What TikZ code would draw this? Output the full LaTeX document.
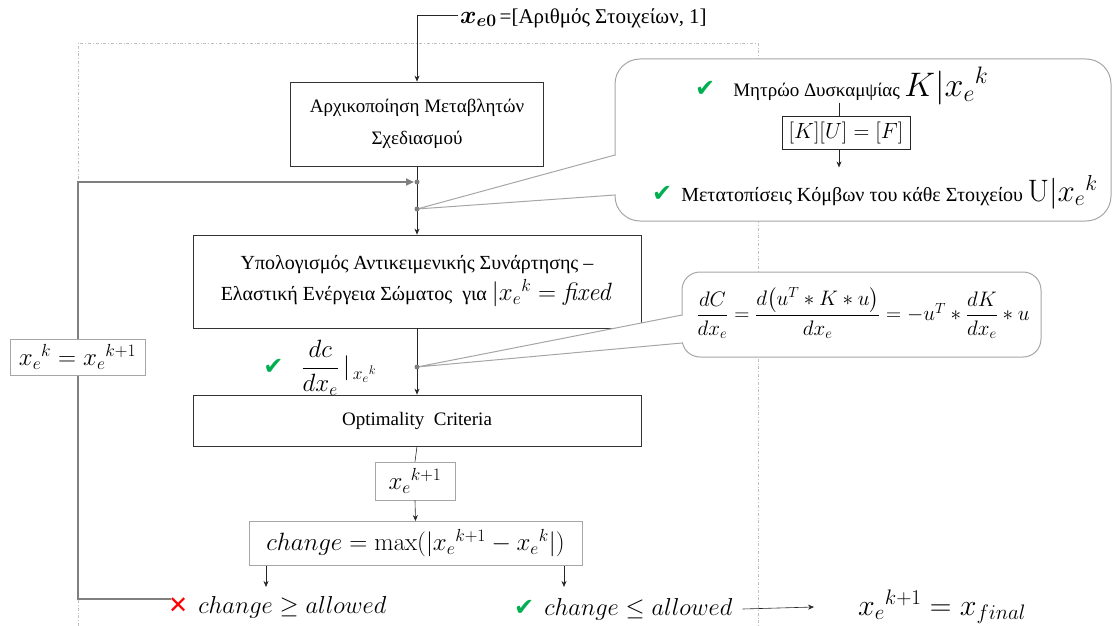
\RequirePackage{fix-cm}
\documentclass[tikz,border=0pt]{standalone}
\usepackage{amsmath}
\usepackage{bm}
\usepackage[no-math]{fontspec}
\setmainfont{Liberation Serif}
\newfontfamily\symfont{DejaVu Sans}
\usetikzlibrary{arrows.meta}
\definecolor{okgreen}{HTML}{00B050}
\definecolor{loopgray}{HTML}{7F7F7F}
\definecolor{boxgray}{HTML}{A6A6A6}
\definecolor{framegray}{HTML}{BFBFBF}
\newcommand\fsz[2]{\fontsize{#1}{#2}\selectfont}
\newcommand\okmark{{\symfont\color{okgreen}✔}}
\newcommand\badmark{{\symfont\color{red}✕}}
\newcommand\xek[1]{{x_e}^{#1}}

\begin{document}
\begin{tikzpicture}[x=1pt, y=-1pt,
  plain/.style={inner sep=2pt, font=\fsz{18}{22}},
  stepbox/.style={draw=black!80, line width=0.8pt, fill=white, align=center, inner sep=3pt, font=\fsz{19}{32}},
  graybox/.style={draw=boxgray, line width=0.9pt, fill=white, align=center, inner sep=3pt, font=\fsz{25}{28}},
  arr/.style={draw=black!85, line width=0.6pt, -{Stealth[length=6pt,width=5pt]}},
  link/.style={draw=black!85, line width=0.6pt},
  loop/.style={draw=loopgray, line width=2.4pt, -{Triangle[length=8pt,width=7pt]}},
  frame/.style={draw=framegray, line width=0.7pt, dash dot},
  callframe/.style={draw=boxgray, line width=1pt, fill=white},
  junction/.style={circle, fill=loopgray, inner sep=0pt, minimum size=5pt}
]
\useasboundingbox (0,0) rectangle (1113,626);

% dash-dot frame around the iteration
\draw[frame] (78,626) -- (78,43) -- (758,43) -- (758,626);

% initial value
\node[plain, anchor=west] (top) at (458,18)
  {{\fsz{25}{28}$\bm{x_{e0}}$}\,{\fsz{21}{24}=[Αριθμός Στοιχείων, 1]}};

% main column of steps
\node[stepbox, minimum width=253, minimum height=84] (b1) at (417,124)
  {Αρχικοποίηση Μεταβλητών\\Σχεδιασμού};
\node[stepbox, minimum width=448, minimum height=93, font=\fsz{20}{31}] (b2) at (417,281.5)
  {Υπολογισμός Αντικειμενικής Συνάρτησης –\\Ελαστική Ενέργεια Σώματος\ \ για {\fsz{25}{31}$|\xek{k} = \mathit{fixed}$}};
\node[stepbox, minimum width=448, minimum height=51] (b3) at (417,420.5)
  {Optimality\ \ Criteria};
\node[graybox, minimum width=80, minimum height=38] (xnew) at (415,481)
  {$\xek{k+1}$};
\node[graybox, minimum width=333, minimum height=44] (chg) at (415.5,543.5)
  {$change = \max(|\xek{k+1} - \xek{k}|)$};

\coordinate (j1) at (417,182);
\coordinate (j2) at (417,209);
\coordinate (j3) at (417,367);

\draw[arr] ([yshift=3pt]top.west) -| (b1.north);
\draw[arr] (b1.south) -- (b2.north);
\draw[arr] (b2.south) -- (b3.north);
\draw[link] (b3.south) -- (xnew.north);
\draw[arr] (xnew.south) -- (chg.north);

% gradient label
\node[plain] (grad) at (320,368)
  {{\fsz{24}{26}\okmark}\quad{\fsz{25}{28}$\dfrac{dc}{dx_e}\,|_{\,\xek{k}}$}};

% convergence test outcomes
\node[plain, anchor=west] (no) at (166,607)
  {\fsz{24}{26}\badmark\ \,{\fsz{24.5}{26}$change \geq allowed$}};
\node[plain, anchor=west] (yes) at (512,609)
  {\fsz{24}{26}\okmark\ \,{\fsz{24.5}{26}$change \leq allowed$}};
\node[plain, anchor=west] (fin) at (856,607)
  {\fsz{30}{32}$\xek{k+1} = x_{final}$};

\draw[arr] ([xshift=-149.5pt]chg.south) -- ++(0,21);
\draw[arr] ([xshift=148.5pt]chg.south) -- ++(0,21);
\draw[arr] ([xshift=8pt]yes.east) -- ([xshift=-42pt]fin.west);

% feedback loop
\coordinate (fbstart) at (171,599);
\draw[loop] (fbstart) -- (78,599) |- ([xshift=-3pt]j1);
\node[graybox, minimum width=135, minimum height=36] (upd) at (77.5,357)
  {$\xek{k} = \xek{k+1}$};

% callout: stiffness and displacements
\node[callframe, rounded corners=25pt, minimum width=496, minimum height=162] (cal1) at (863,140) {};
\draw[white, line width=2pt] (615,156) -- (615,194);
\filldraw[callframe] (615,155) -- (j2) -- (615,195);

\node[plain, anchor=west] (stiff) at (693,86)
  {{\fsz{24}{26}\okmark}\quad{\fsz{19}{22}Μητρώο Δυσκαμψίας} {\fsz{34}{36}$K|\xek{k}$}};
\node[draw=black!85, line width=0.8pt, inner sep=3pt, minimum width=128, minimum height=33, font=\fsz{22}{24}] (keq) at (846,132.5)
  {$[K][U]=[F]$};
\node[plain, anchor=west] (disp) at (650,192)
  {{\fsz{24}{26}\okmark}\ \ {\fsz{20}{22}Μετατοπίσεις Κόμβων του κάθε Στοιχείου} {\fsz{31}{33}$\mathrm{U}|\xek{k}$}};
\draw[link] (keq.north -| 839,0) ++(0,-13) -- ++(0,13);
\draw[arr] (keq.south -| 839,0) -- ++(0,18);

% callout: sensitivity
\node[callframe, rounded corners=18pt, minimum width=359, minimum height=85] (cal2) at (861.5,314.5) {};
\draw[white, line width=2pt] (682,316) -- (682,342);
\filldraw[callframe] (682,315) -- (j3) -- (682,343);
\node[plain, font=\fsz{21}{24}] (sens) at (863,313)
  {$\dfrac{dC}{dx_e} = \dfrac{d\bigl(u^T * K * u\bigr)}{dx_e} = -u^T * \dfrac{dK}{dx_e} * u$};

% junction dots
\node[junction] at (j1) {};
\node[junction] at (j2) {};
\node[junction] at (j3) {};
\end{tikzpicture}
\end{document}
